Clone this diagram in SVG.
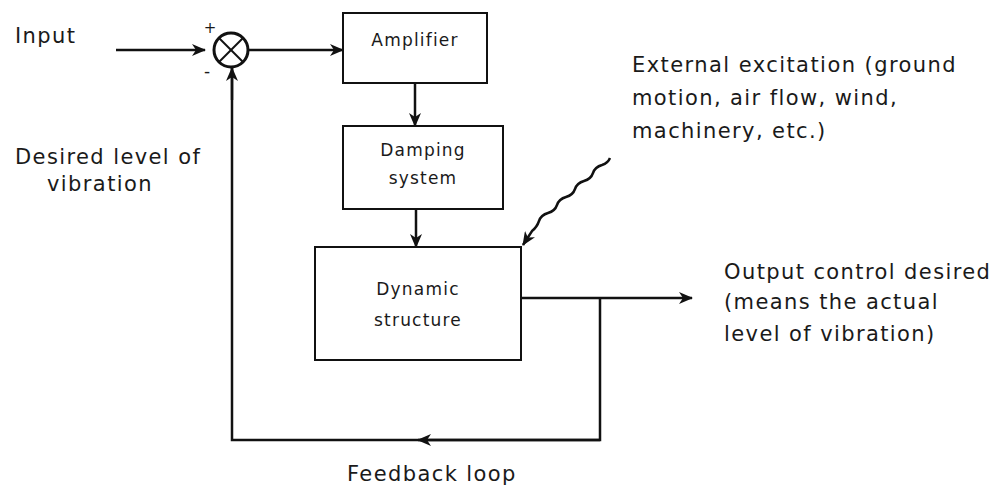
<svg xmlns="http://www.w3.org/2000/svg" width="997" height="489" viewBox="0 0 997 489">
<style>
.t{font-family:"DejaVu Sans","Liberation Sans",sans-serif;fill:#1a1a1a}
.big{font-size:21px;letter-spacing:1.4px}
.sm{font-size:17px;letter-spacing:1.2px}
.ln{stroke:#111;stroke-width:2.5;fill:none}
.box{stroke:#111;stroke-width:2;fill:#fff}
</style>
<defs>
<marker id="ah" markerWidth="14" markerHeight="12" refX="13" refY="6" orient="auto" markerUnits="userSpaceOnUse">
<path d="M0,0 L14,6 L0,12 L4,6 Z" fill="#111"/>
</marker>
</defs>
<rect width="997" height="489" fill="#fff"/>
<g id="connectors">
<line class="ln" x1="116" y1="50" x2="205" y2="50" marker-end="url(#ah)"/>
<line class="ln" x1="248" y1="50" x2="343" y2="50" marker-end="url(#ah)"/>
<line class="ln" x1="415" y1="83" x2="415" y2="126" marker-end="url(#ah)"/>
<line class="ln" x1="416" y1="209" x2="416" y2="247" marker-end="url(#ah)"/>
<line class="ln" x1="521" y1="298" x2="692" y2="298" marker-end="url(#ah)"/>
<polyline class="ln" points="600,298 600,440 232,440 232,67"/>
<line class="ln" x1="600" y1="440" x2="418" y2="440" marker-end="url(#ah)"/>
<line class="ln" x1="232" y1="100" x2="232" y2="68" marker-end="url(#ah)"/>
<path class="ln" stroke-width="2" d="M610,158 q-2,5 -8,7 q-7,2 -9,8 q-2,6 -9,8 q-7,2 -9,8 q-2,6 -9,8 q-7,2 -9,8 q-2,6 -9,8 q-7,2 -9,8 q-2,6 -7,10 L523,245" marker-end="url(#ah)"/>
</g>
<g id="sum">
<circle cx="231" cy="50" r="17" fill="#fff" stroke="#111" stroke-width="3"/>
<line x1="219" y1="38" x2="243" y2="62" stroke="#111" stroke-width="2"/>
<line x1="243" y1="38" x2="219" y2="62" stroke="#111" stroke-width="2"/>
<text class="t" x="210" y="33" font-size="15" text-anchor="middle">+</text>
<text class="t" x="207" y="77" font-size="17" text-anchor="middle">-</text>
</g>
<g id="amplifier">
<rect class="box" x="343" y="13" width="144" height="70"/>
<text class="t sm" x="415" y="46" text-anchor="middle">Amplifier</text>
</g>
<g id="damping">
<rect class="box" x="343" y="126" width="160" height="83"/>
<text class="t sm" x="423" y="156" text-anchor="middle">Damping</text>
<text class="t sm" x="423" y="184" text-anchor="middle">system</text>
</g>
<g id="dynamic">
<rect class="box" x="315" y="247" width="206" height="113"/>
<text class="t sm" x="418" y="295" text-anchor="middle">Dynamic</text>
<text class="t sm" x="418" y="326" text-anchor="middle">structure</text>
</g>
<g id="labels">
<text class="t big" x="15" y="43">Input</text>
<text class="t big" x="15" y="164">Desired level of</text>
<text class="t big" x="100" y="191" text-anchor="middle">vibration</text>
<text class="t big" x="632" y="72" textLength="325">External excitation  (ground</text>
<text class="t big" x="632" y="105">motion, air flow, wind,</text>
<text class="t big" x="632" y="138">machinery, etc.)</text>
<text class="t big" x="724" y="279">Output control desired</text>
<text class="t big" x="724" y="309">(means the actual</text>
<text class="t big" x="724" y="341">level of vibration)</text>
<text class="t big" x="347" y="481">Feedback loop</text>
</g>
</svg>
